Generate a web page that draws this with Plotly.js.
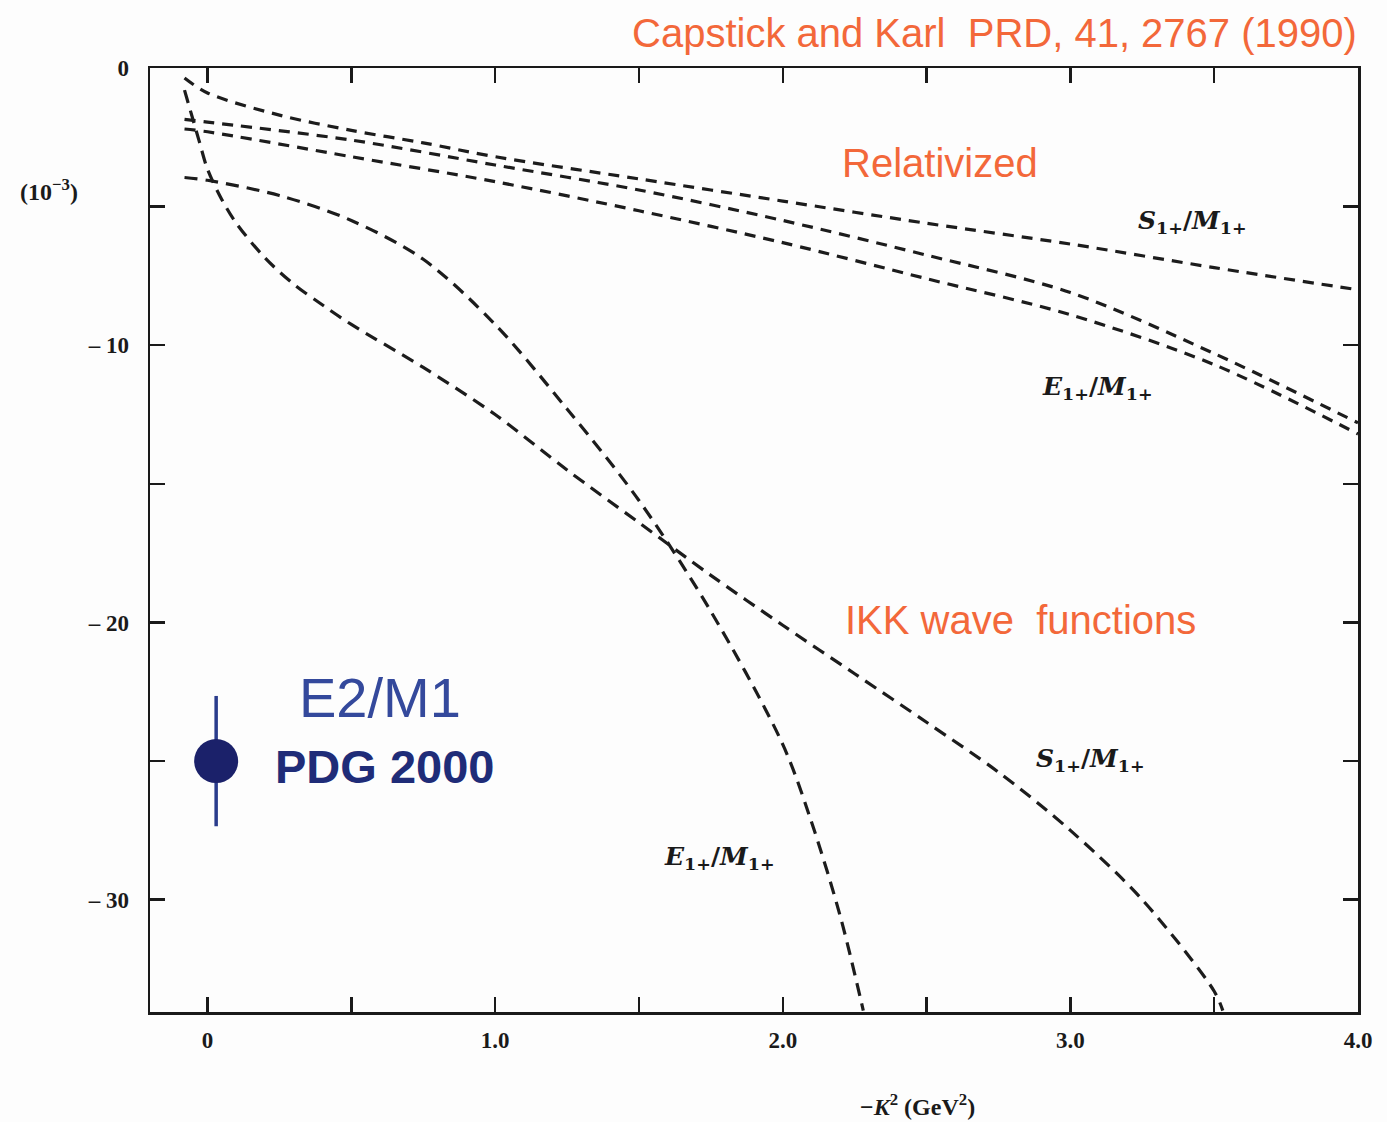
<!DOCTYPE html>
<html>
<head>
<meta charset="utf-8">
<script src="https://cdn.plot.ly/plotly-3.0.1.min.js"></script>
<style>
  html, body { margin: 0; padding: 0; background: #fdfdfd; }
  #chart { width: 1387px; height: 1122px; }
</style>
</head>
<body>
<div id="chart"></div>
<script>
// Relativized model curves (units of 10^-3)
const relX = [-0.08, 0, 0.25, 0.5, 0.75, 1.0, 1.5, 2.0, 2.5, 3.0, 3.5, 4.0];
const relS = [-0.36, -0.9, -1.7, -2.25, -2.7, -3.2, -4.0, -4.8, -5.6, -6.35, -7.2, -8.0];

const relEX = [-0.08, 0, 0.5, 1.0, 1.5, 2.0, 2.5, 3.0, 3.5, 4.0];
const relEa = [-1.85, -1.95, -2.6, -3.5, -4.4, -5.5, -6.75, -8.1, -10.3, -12.8];
const relEb = [-2.2, -2.3, -3.2, -4.1, -5.15, -6.3, -7.6, -8.9, -10.7, -13.2];

// IKK wave-function curves
const ikkEX = [-0.08, 0, 0.25, 0.5, 0.75, 1.0, 1.25, 1.5, 1.75, 2.0, 2.1, 2.2, 2.28];
const ikkE  = [-3.95, -4.05, -4.6, -5.5, -6.9, -9.25, -12.3, -15.6, -19.6, -24.4, -27.2, -30.6, -34.0];

const ikkSX = [-0.08, -0.03, 0, 0.05, 0.1, 0.2, 0.3, 0.4, 0.5, 0.75, 1.0, 1.25, 1.5, 1.75, 2.0, 2.25, 2.5, 2.75, 3.0, 3.25, 3.5, 3.53];
const ikkS  = [-0.8, -2.6, -3.65, -4.75, -5.6, -6.85, -7.8, -8.55, -9.25, -10.8, -12.5, -14.5, -16.4, -18.3, -20.1, -21.85, -23.6, -25.4, -27.5, -30.0, -33.3, -34.0];

// PDG 2000 E2/M1 point
const pdgX = [0.03];
const pdgY = [-25.0];
const pdgErr = [2.35];

// Axis ticks (labelled majors; unlabelled minors every half step)
const xTickVals = [0, 1.0, 2.0, 3.0, 4.0];
const xTickText = ['0', '1.0', '2.0', '3.0', '4.0'];
const yTickVals = [0, -10, -20, -30];
const yTickText = ['0', '\u2013 10', '\u2013 20', '\u2013 30'];

const orange = '#f3683a';
const dashLine = (x, y, dash) => ({
  x: x, y: y, type: 'scatter', mode: 'lines',
  line: { color: '#1c1c1c', width: 3.2, dash: dash, shape: 'spline', smoothing: 0.9 },
  hoverinfo: 'skip', showlegend: false
});

const traces = [
  dashLine(relX, relS, '11px,8px'),
  dashLine(relEX, relEa, '11px,8px'),
  dashLine(relEX, relEb, '11px,8px'),
  dashLine(ikkEX, ikkE, '13px,8px'),
  dashLine(ikkSX, ikkS, '13px,8px'),
  {
    x: pdgX, y: pdgY, type: 'scatter', mode: 'markers',
    marker: { color: '#1b216a', size: 44 },
    error_y: { type: 'data', array: pdgErr, visible: true, color: '#2a3c8c', thickness: 3.5, width: 0 },
    hoverinfo: 'skip', showlegend: false
  }
];

const tickFont = { family: 'Liberation Serif, serif', size: 23, color: '#1a1a1a', weight: 'bold' };
const unitFont = { family: 'Liberation Serif, serif', size: 24, color: '#1a1a1a', weight: 'bold' };
const curveFont = { family: 'DejaVu Serif, serif', size: 25, color: '#1a1a1a', weight: 'bold' };
const sansFont = (size, color, weight) => ({ family: 'Liberation Sans, Arial, sans-serif', size: size, color: color, weight: weight || 'normal' });
const sLabel = '<i>S</i><sub>1+</sub>/<i>M</i><sub>1+</sub>';
const eLabel = '<i>E</i><sub>1+</sub>/<i>M</i><sub>1+</sub>';

const ann = (text, xref, yref, x, y, font) => ({
  text: text, xref: xref, yref: yref, x: x, y: y, xanchor: 'center', yanchor: 'middle',
  showarrow: false, font: font
});

const annotations = [
  ann('Capstick and Karl  PRD, 41, 2767 (1990)', 'x', 'paper', 2.735, 1.037, sansFont(40, orange)),
  ann('Relativized', 'x', 'y', 2.547, -3.43, sansFont(40, orange)),
  ann('IKK wave  functions', 'x', 'y', 2.826, -19.9, sansFont(40, orange)),
  ann('E2/M1', 'x', 'y', 0.6, -22.7, sansFont(56, '#34499c')),
  ann('PDG 2000', 'x', 'y', 0.615, -25.2, sansFont(47, '#1f2c78', 'bold')),
  ann(sLabel, 'x', 'y', 3.425, -5.55, curveFont),
  ann(eLabel, 'x', 'y', 3.094, -11.54, curveFont),
  ann(sLabel, 'x', 'y', 3.07, -24.95, curveFont),
  ann(eLabel, 'x', 'y', 1.78, -28.5, curveFont),
  ann('(10<sup>\u22123</sup>)', 'paper', 'y', -0.084, -4.4, unitFont),
  ann('\u2212<i>K</i><sup>2</sup> (GeV<sup>2</sup>)', 'x', 'paper', 2.467, -0.0985, unitFont)
];

const axisLine = { showgrid: false, zeroline: false, showline: true, linecolor: '#1a1a1a', linewidth: 2.5,
  mirror: 'allticks', ticks: 'inside', ticklen: 15, tickwidth: 2.5, tickcolor: '#1a1a1a', tickfont: tickFont };

const layout = {
  width: 1387, height: 1122,
  margin: { l: 150, r: 29, t: 68, b: 110, pad: 0 },
  paper_bgcolor: '#fdfdfd', plot_bgcolor: '#fdfdfd',
  showlegend: false,
  xaxis: Object.assign({}, axisLine, {
    range: [-0.2, 4.0], tickvals: xTickVals, ticktext: xTickText, ticklabelstandoff: 6,
    minor: { tick0: 0, dtick: 0.5, ticks: 'inside', ticklen: 15, tickwidth: 2.5, tickcolor: '#1a1a1a', showgrid: false }
  }),
  yaxis: Object.assign({}, axisLine, {
    range: [-34.05, 0], tickvals: yTickVals, ticktext: yTickText, ticklabelstandoff: 14,
    minor: { tick0: 0, dtick: 5, ticks: 'inside', ticklen: 15, tickwidth: 2.5, tickcolor: '#1a1a1a', showgrid: false }
  }),
  annotations: annotations
};

Plotly.newPlot('chart', traces, layout, { displayModeBar: false, staticPlot: true });
</script>
</body>
</html>
